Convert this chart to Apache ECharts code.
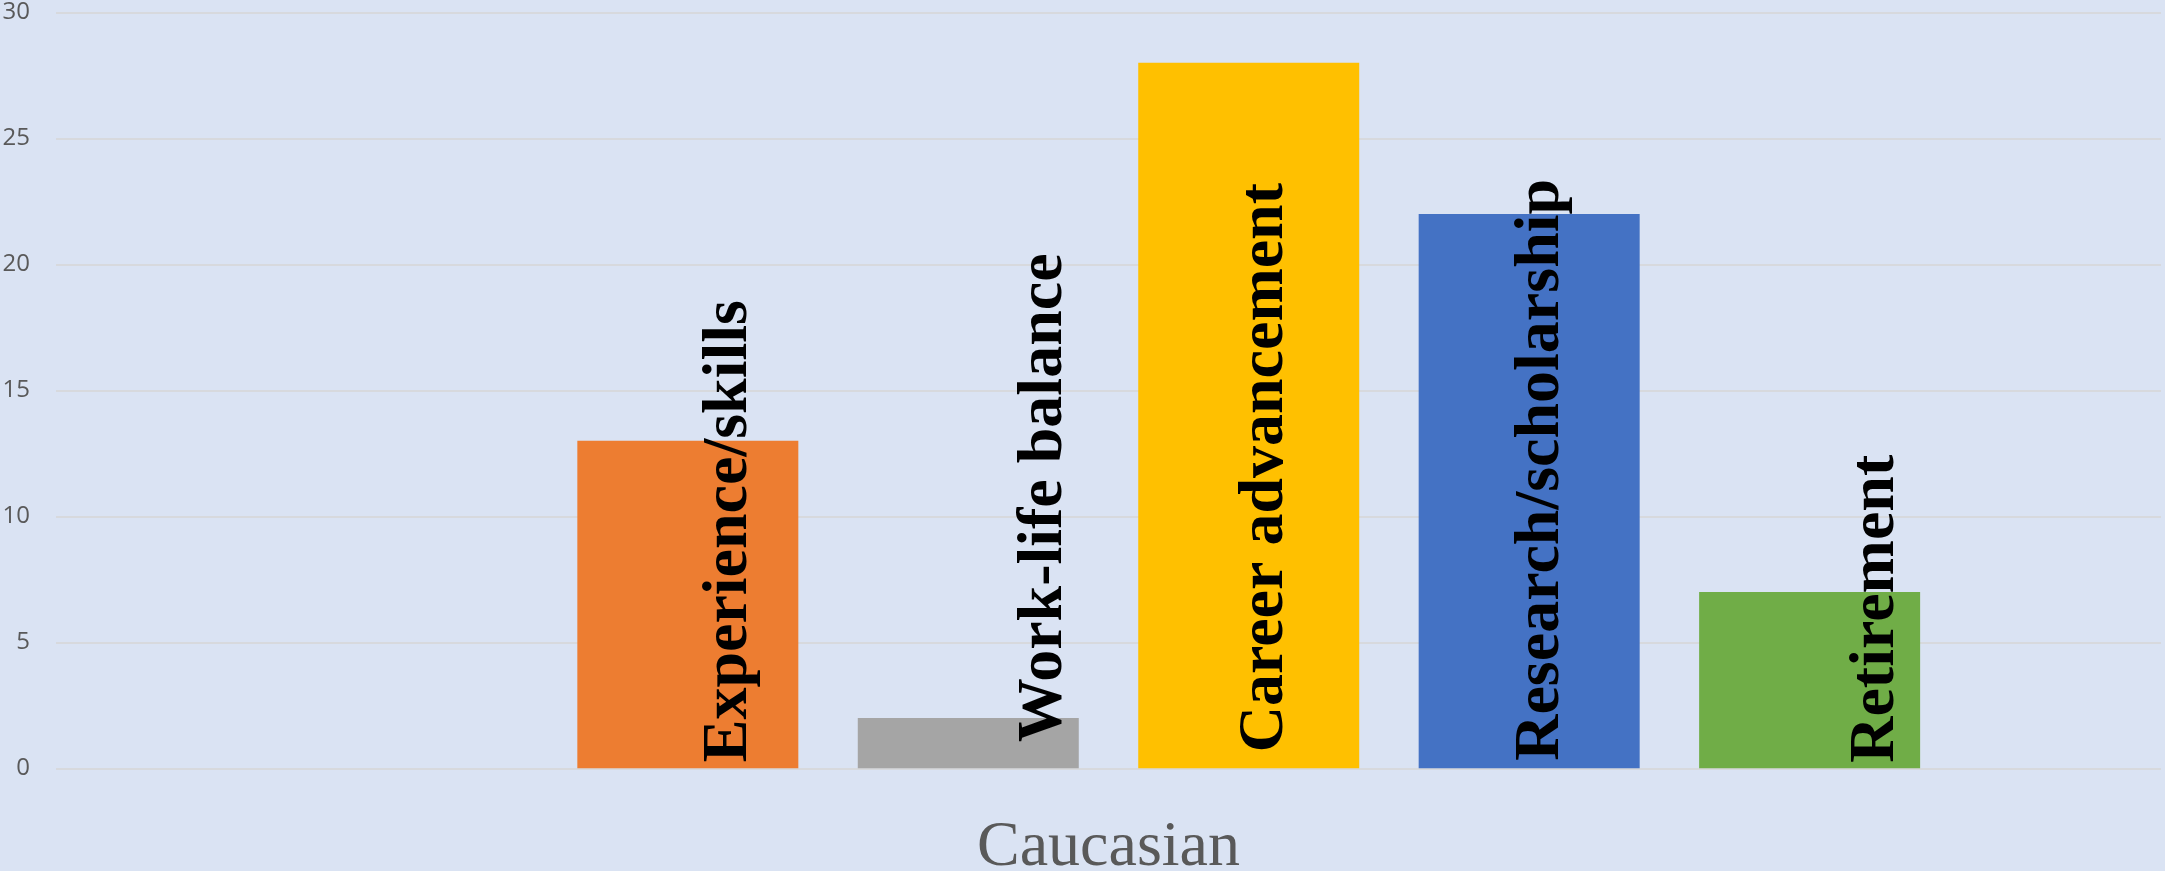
<!DOCTYPE html>
<html>
<head>
<meta charset="utf-8">
<script src="https://cdn.jsdelivr.net/npm/echarts@6/dist/echarts.min.js"></script>
<style>
  html, body { margin: 0; padding: 0; background: #DAE3F3; }
  #chart { width: 2165px; height: 871px; }
</style>
</head>
<body>
<div id="chart"></div>
<script>
// ---- data ----
const categories = ['Caucasian'];
const seriesNames = ['Experience/skills', 'Work-life balance', 'Career advancement', 'Research/scholarship', 'Retirement'];
const seriesValues = [13, 2, 28, 22, 7];
const yTicks = { min: 0, max: 30, interval: 5 };

// ---- styling ----
const seriesColors = ['#ED7D31', '#A5A5A5', '#FFC000', '#4472C4', '#70AD47'];
// label placement (manually placed labels in the original)
const labelShift = [42, 76, 17, 12.5, 66.5];
const labelLift = [6, 26, 16, 7.5, 5.5];

// empty slots in the cluster (series with no value)
const leadingEmptySlots = 2;
const trailingEmptySlots = 1;

const chart = echarts.init(document.getElementById('chart'), null, { renderer: 'canvas' });

const series = [];
function emptySlot(i) {
  return { name: 'empty' + i, type: 'bar', data: [null], barWidth: 221, barGap: '26.9%', silent: true };
}
for (let i = 0; i < leadingEmptySlots; i++) series.push(emptySlot('L' + i));
seriesNames.forEach((name, i) => {
  series.push({
    name: name,
    type: 'bar',
    data: [seriesValues[i]],
    barWidth: 221,
    barGap: '26.9%',
    itemStyle: { color: seriesColors[i] },
    label: {
      show: true,
      formatter: '{a}',
      position: 'insideBottom',
      distance: labelLift[i],
      rotate: 90,
      align: 'left',
      verticalAlign: 'middle',
      offset: [0, labelShift[i]],
      fontFamily: '"Liberation Serif", "Times New Roman", serif',
      fontWeight: 'bold',
      fontSize: 64,
      color: '#000000'
    }
  });
});
for (let i = 0; i < trailingEmptySlots; i++) series.push(emptySlot('T' + i));

chart.setOption({
  backgroundColor: '#DAE3F3',
  animation: false,
  grid: { left: 56, right: 4, top: 12.3, bottom: 102.7, containLabel: false, outerBoundsMode: 'none' },
  xAxis: {
    type: 'category',
    data: categories,
    axisLine: { show: false },
    axisTick: { show: false },
    axisLabel: {
      margin: 48,
      fontFamily: '"Liberation Serif", "Times New Roman", serif',
      fontSize: 64,
      color: '#595959'
    }
  },
  yAxis: {
    type: 'value',
    min: yTicks.min,
    max: yTicks.max,
    interval: yTicks.interval,
    axisLine: { show: false },
    axisTick: { show: false },
    axisLabel: {
      margin: 26,
      fontFamily: '"Open Sans", sans-serif',
      fontSize: 24,
      color: '#595959'
    },
    splitLine: { lineStyle: { color: '#D6D6D6', width: 1.5 } }
  },
  series: series
});
</script>
</body>
</html>
